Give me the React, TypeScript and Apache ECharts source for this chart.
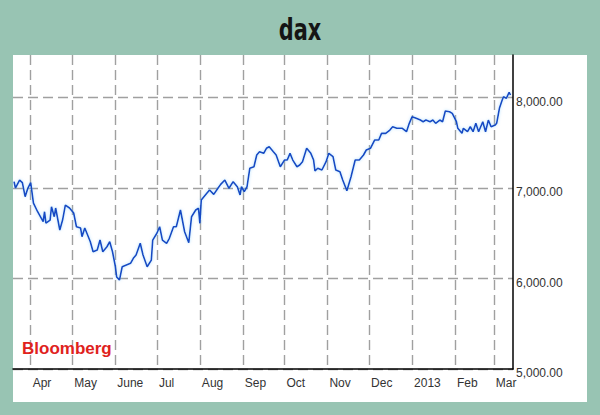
import React, { useEffect, useRef } from "react";
import * as echarts from "echarts";

const dates = [
  "2012-03-20","2012-03-21","2012-03-24","2012-03-26","2012-03-28","2012-03-30","2012-04-01","2012-04-03","2012-04-06","2012-04-10",
  "2012-04-11","2012-04-12","2012-04-15","2012-04-16","2012-04-18","2012-04-19","2012-04-22","2012-04-24","2012-04-26","2012-04-29",
  "2012-05-02","2012-05-04","2012-05-07","2012-05-08","2012-05-10","2012-05-14","2012-05-16","2012-05-19","2012-05-21","2012-05-23",
  "2012-05-26","2012-05-28","2012-05-30","2012-06-01","2012-06-02","2012-06-04","2012-06-06","2012-06-09","2012-06-12","2012-06-14",
  "2012-06-16","2012-06-19","2012-06-21","2012-06-24","2012-06-27","2012-06-28","2012-07-01","2012-07-03","2012-07-05","2012-07-08",
  "2012-07-10","2012-07-13","2012-07-15","2012-07-18","2012-07-21","2012-07-24","2012-07-26","2012-07-29","2012-07-31","2012-08-01",
  "2012-08-02","2012-08-06","2012-08-08","2012-08-11","2012-08-14","2012-08-16","2012-08-19","2012-08-22","2012-08-25","2012-08-28",
  "2012-08-30","2012-08-31","2012-09-02","2012-09-04","2012-09-06","2012-09-09","2012-09-11","2012-09-13","2012-09-16","2012-09-18",
  "2012-09-20","2012-09-23","2012-09-25","2012-09-28","2012-10-01","2012-10-03","2012-10-05","2012-10-07","2012-10-10","2012-10-12",
  "2012-10-14","2012-10-17","2012-10-20","2012-10-22","2012-10-23","2012-10-25","2012-10-28","2012-10-31","2012-11-02","2012-11-05",
  "2012-11-07","2012-11-10","2012-11-12","2012-11-15","2012-11-18","2012-11-21","2012-11-24","2012-11-27","2012-11-29","2012-12-02",
  "2012-12-05","2012-12-08","2012-12-10","2012-12-13","2012-12-16","2012-12-18","2012-12-21","2012-12-25","2012-12-28","2012-12-30",
  "2013-01-01","2013-01-04","2013-01-07","2013-01-09","2013-01-11","2013-01-14","2013-01-16","2013-01-18","2013-01-21","2013-01-23",
  "2013-01-25","2013-01-28","2013-01-30","2013-02-02","2013-02-03","2013-02-06","2013-02-07","2013-02-10","2013-02-12","2013-02-14",
  "2013-02-16","2013-02-18","2013-02-21","2013-02-23","2013-02-25","2013-02-27","2013-03-02","2013-03-03","2013-03-05","2013-03-07",
  "2013-03-08","2013-03-10","2013-03-12","2013-03-13"
];

const daxValues = [
  7070,7000,7088,7059,6904,7000,7059,6834,6738,6628,
  6738,6613,6646,6793,6683,6779,6536,6646,6812,6779,
  6724,6572,6558,6462,6558,6407,6296,6315,6425,6296,
  6351,6407,6296,6138,6017,5983,6130,6149,6168,6223,
  6260,6389,6260,6130,6204,6425,6500,6572,6425,6389,
  6444,6572,6572,6757,6517,6396,6683,6757,6776,6610,
  6867,6941,6978,6930,6997,7040,7088,6997,7070,7014,
  6923,7014,6959,7014,7218,7235,7365,7401,7383,7439,
  7456,7401,7365,7235,7309,7309,7383,7309,7235,7254,
  7291,7439,7383,7309,7188,7218,7199,7291,7383,7346,
  7199,7180,7088,6970,7125,7309,7309,7365,7420,7439,
  7530,7530,7604,7604,7641,7677,7660,7660,7622,7715,
  7788,7770,7751,7733,7751,7733,7751,7715,7751,7733,
  7851,7843,7825,7733,7660,7604,7660,7622,7677,7622,
  7715,7622,7733,7622,7751,7677,7696,7715,7881,7972,
  8009,7991,8058,8028
];

const monthTicks = [
  "2012-04-01","2012-05-01","2012-06-01","2012-07-01","2012-08-01","2012-09-01",
  "2012-10-01","2012-11-01","2012-12-01","2013-01-01","2013-02-01","2013-03-01"
];
const monthLabels = ["Apr","May","June","Jul","Aug","Sep","Oct","Nov","Dec","2013","Feb","Mar"];

const yTicks = [5000, 6000, 7000, 8000];

const xStart = "2012-03-19 06:00";
const xEnd = "2013-03-14 19:00";
const yMin = 5000;
const yMax = 8470;

export default function App() {
  const ref = useRef<HTMLDivElement>(null);
  useEffect(() => {
    if (!ref.current) return;
    const chart = echarts.init(ref.current, undefined, { renderer: "svg" });
    const t = (s: string) => +echarts.time.parse(s);
    const tickTimes = monthTicks.map(t);
    const seriesData = dates.map((d, i) => [t(d), daxValues[i]]);
    const gridColor = "#a0a0a0";
    chart.setOption({
      animation: false,
      backgroundColor: "#98c4b3",
      graphic: [
        {
          type: "rect",
          z: -10,
          shape: { x: 13, y: 55, width: 574, height: 347 },
          style: { fill: "#ffffff" },
          silent: true,
        },
        {
          type: "text",
          z: 10,
          x: 300,
          y: 45,
          scaleX: 0.8,
          scaleY: 1.05,
          style: {
            text: "dax",
            fill: "#151515",
            align: "center",
            verticalAlign: "bottom",
            font: 'bold 29px "DejaVu Sans Condensed", "Liberation Sans Narrow", sans-serif',
          },
        },
        {
          type: "text",
          z: 10,
          left: 22,
          top: 340,
          style: {
            text: "Bloomberg",
            fill: "#e0221d",
            font: 'bold 17px "Liberation Sans", Arial, sans-serif',
          },
        },
      ],
      grid: { left: 13, right: 87, top: 55, bottom: 46, containLabel: false },
      xAxis: {
        type: "value",
        min: t(xStart),
        max: t(xEnd),
        axisLine: { show: true, onZero: false, lineStyle: { color: "#000", width: 1.5 } },
        axisTick: { show: false, customValues: tickTimes },
        splitLine: {
          show: true,
          lineStyle: { color: gridColor, type: [10, 5], width: 1.4 },
        },
        axisLabel: {
          customValues: tickTimes,
          align: "left",
          margin: 8,
          padding: [0, 0, 0, 2],
          color: "#333",
          fontSize: 12,
          fontFamily: '"Liberation Sans", Arial, sans-serif',
          hideOverlap: false,
          formatter: (v: number) => {
            const i = tickTimes.findIndex((x) => Math.abs(x - v) < 43200000);
            return i >= 0 ? monthLabels[i] : "";
          },
        },
      },
      yAxis: {
        type: "value",
        position: "right",
        min: yMin,
        max: yMax,
        interval: 1000,
        axisLine: { show: true, onZero: false, lineStyle: { color: "#000", width: 1.5 } },
        axisTick: { show: false, customValues: yTicks },
        splitLine: {
          show: true,
          lineStyle: { color: gridColor, type: [10, 5], width: 1.4 },
        },
        axisLabel: {
          customValues: yTicks,
          margin: 3,
          color: "#333",
          fontSize: 12,
          fontFamily: '"Liberation Sans", Arial, sans-serif',
          verticalAlign: "top",
          lineHeight: 8,
          formatter: (v: number) =>
            v.toLocaleString("en-US", { minimumFractionDigits: 2, maximumFractionDigits: 2 }),
        },
      },
      series: [
        {
          type: "line",
          data: seriesData,
          showSymbol: false,
          symbol: "none",
          lineStyle: {
            color: "#1549c4",
            width: 1.6,
            shadowColor: "rgba(120,200,255,0.6)",
            shadowBlur: 3,
          },
        },
      ],
    });
    return () => chart.dispose();
  }, []);
  return (
    <div
      ref={ref}
      style={{ position: "fixed", left: 0, top: 0, width: 600, height: 415 }}
    />
  );
}
